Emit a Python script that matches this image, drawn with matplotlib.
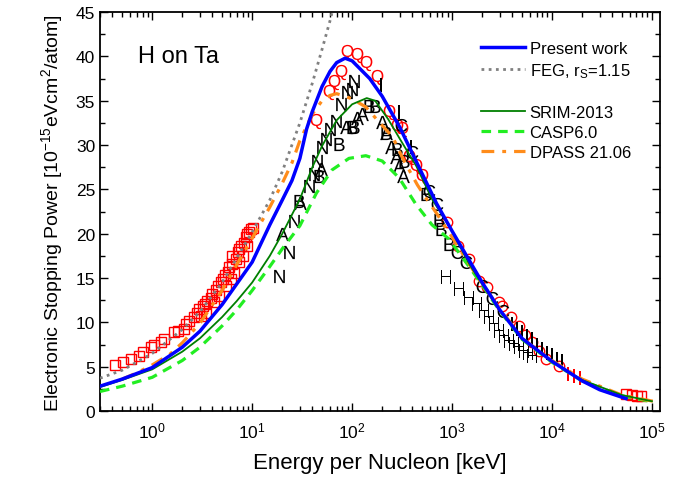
import numpy as np
import matplotlib
matplotlib.use("Agg")
import matplotlib.pyplot as plt
from matplotlib.lines import Line2D
from matplotlib.ticker import LogLocator, MultipleLocator, NullFormatter

plt.rcParams['font.family'] = ['Liberation Sans', 'DejaVu Sans']
plt.rcParams['mathtext.fontset'] = 'custom'
plt.rcParams['mathtext.rm'] = 'Liberation Sans'
plt.rcParams['mathtext.it'] = 'Liberation Sans:italic'
plt.rcParams['mathtext.sf'] = 'Liberation Sans'

# ---------------- curves ----------------
present_E = [0.3, 0.5, 1, 2, 3, 5, 10, 15, 20, 25, 30, 35, 40, 50, 60, 70, 85, 100, 150, 200, 300,
             500, 700, 1000, 2000, 3000, 5000, 1e4, 2e4, 3e4, 5.5e4]
present_S = [2.8, 3.6, 4.9, 7.2, 9.0, 12.0, 16.8, 21.0, 23.8, 26.0, 28.5, 31.8, 33.8, 36.6, 38.3, 39.3,
             39.8, 39.5, 37.5, 35.5, 32.0, 26.8, 23.4, 20.3, 14.5, 11.4, 8.2, 5.6, 3.4, 2.4, 1.4]

feg_E = [0.3, 0.5, 1, 2, 3, 5, 10, 15, 20, 30, 40, 50, 60, 68]
feg_S = [3.7, 4.6, 6.5, 9.2, 11.2, 14.5, 20.2, 23.8, 27.0, 32.5, 37.0, 40.8, 44.0, 46.5]

srim_E = [0.3, 0.5, 1, 2, 3, 5, 7, 10, 15, 20, 30, 40, 50, 70, 100, 140, 170, 230, 300, 440, 630,
          930, 1500, 2000, 3000, 5000, 1e4, 2e4, 5e4, 1e5]
srim_S = [2.7, 3.5, 4.7, 6.7, 8.2, 10.6, 12.4, 14.5, 17.5, 20.0, 23.9, 27.5, 29.9, 32.8, 34.6, 35.3,
          35.0, 32.9, 30.7, 27.6, 23.9, 20.9, 16.5, 14.3, 11.4, 8.2, 5.6, 3.5, 1.8, 1.1]

casp_E = [0.3, 0.5, 1, 2, 3, 5, 7, 10, 15, 20, 30, 44, 63, 93, 137, 200, 295, 436, 630, 930, 1500,
          2000, 3000, 5000, 1e4, 2e4, 5e4, 1e5]
casp_S = [2.2, 2.8, 3.8, 5.7, 7.2, 9.6, 11.4, 13.6, 16.3, 18.3, 20.9, 24.6, 27.2, 28.5, 28.8, 28.2,
          26.3, 23.3, 21.0, 19.4, 16.2, 14.2, 11.3, 8.1, 5.5, 3.4, 1.7, 1.05]

dpass_E = [0.5, 0.7, 1, 1.5, 2, 3, 5, 7, 10, 15, 20, 25, 30, 40, 50, 60, 70, 85, 100, 137, 186, 255,
           324, 450, 550, 690, 1000, 2000, 5000, 1e4, 2e4, 5e4, 1.2e5]
dpass_S = [3.6, 4.3, 5.2, 6.4, 7.7, 9.9, 13.6, 16.5, 19.5, 23.0, 25.7, 28.0, 30.5, 33.5, 35.0, 35.6,
           35.8, 35.5, 35.2, 34.3, 32.6, 30.9, 28.4, 25.5, 24.0, 22.4, 19.6, 14.3, 8.2, 5.7, 3.6, 1.8, 0.95]

# ---------------- experimental data ----------------
sq_E = [0.427, 0.51, 0.61, 0.74, 0.80, 0.97, 1.05, 1.22, 1.32, 1.66, 1.79, 2.09, 2.2, 2.34, 2.63,
        2.78, 2.95, 3.19, 3.39, 3.57, 3.86, 4.0, 4.3, 4.5, 4.86, 5.13, 5.37, 5.67, 5.89, 6.26, 6.35,
        6.85, 7.13, 7.41, 7.7, 8.3, 8.6, 8.95, 9.3, 9.7, 10.1, 4.17, 4.68, 5.45, 6.1, 6.6, 7.4, 8.0,
        8.95, 3.44, 3.07]
sq_S = [5.19, 5.56, 5.86, 6.24, 6.61, 7.18, 7.44, 7.82, 8.12, 8.87, 9.06, 9.24, 9.8, 10.2, 10.56,
        11.1, 11.5, 11.8, 12.06, 12.4, 12.8, 13.2, 13.6, 14.1, 14.5, 14.9, 15.3, 15.7, 16.2, 16.6, 17.5,
        17.1, 17.9, 18.3, 18.6, 19.0, 19.6, 19.95, 20.2, 20.5, 20.7, 12.3, 13.0, 14.1, 14.9, 15.6, 16.8,
        17.5, 18.6, 11.1, 10.7]

sqhi_E = [55000, 63000, 71000, 78000]
sqhi_S = [1.9, 1.8, 1.7, 1.7]

q_E = [44, 59, 66, 78, 89, 112, 137, 178, 235, 280, 316, 370, 436, 500]
q_S = [32.7, 36.0, 37.1, 38.2, 40.5, 40.2, 39.3, 37.7, 33.7, 32.1, 31.8, 28.7, 27.6, 26.5]

o_E = [880, 1150, 1480, 1860, 2240, 2950, 3160, 3900, 4680, 5400, 6300, 7400, 8700, 11700]
o_S = [21.3, 18.6, 17.1, 14.7, 14.0, 12.3, 11.8, 10.6, 9.6, 8.6, 7.8, 6.8, 5.9, 5.1]

ri_E = [14500, 16500, 19000]
ri_S = [4.2, 4.0, 3.7]

n_E = [18.6, 23.4, 26.3, 37, 42, 45, 50, 55, 60, 69, 78, 89, 100, 105]
n_S = [15.2, 17.9, 21.4, 25.4, 26.7, 28.2, 29.8, 30.7, 31.8, 32.7, 34.6, 36.0, 36.3, 37.2]

a_E = [20, 30, 49, 87, 112, 126, 200, 216, 245, 275, 295, 320]
a_S = [20.0, 23.5, 27.3, 32.0, 33.1, 33.5, 32.6, 31.4, 29.8, 28.7, 27.6, 26.5]

b_E = [29.5, 47, 74, 100, 105, 148, 170, 216, 280, 330, 550, 740, 780, 930]
b_S = [23.7, 26.5, 30.1, 32.0, 32.0, 34.4, 34.4, 31.4, 29.5, 28.2, 24.5, 21.6, 20.5, 18.8]

c_E = [309, 400, 590, 710, 1120, 1380, 2000, 2500, 3200]
c_S = [32.3, 29.2, 24.8, 23.3, 17.9, 16.8, 14.1, 12.8, 11.3]

i_E = [195, 295, 390, 4000, 4500, 5000, 5600, 6300, 7100, 8000, 8900, 10000, 11200, 12500]
i_S = [36.8, 33.7, 29.8, 9.8, 9.3, 8.9, 8.5, 8.1, 7.5, 7.0, 6.6, 6.3, 5.9, 5.6]

h_E = [870, 1170, 1480, 1780, 2090, 2340, 2630, 2950, 3300, 3700, 4170, 4680, 5250, 5800, 6300]
h_S = [15.1, 13.8, 12.8, 12.1, 11.3, 10.6, 9.8, 9.0, 8.5, 7.9, 7.6, 7.2, 6.8, 6.5, 6.2]

# ---------------- figure ----------------
fig = plt.figure(figsize=(6.77, 4.85), dpi=100)
ax = fig.add_axes([0.1477, 0.1505, 0.827, 0.8225])

def letters(E, S, ch, color, ms=9.5):
    ax.plot(E, S, linestyle='none', marker=r'$\mathsf{%s}$' % ch, color=color,
            markersize=ms, markeredgewidth=0, zorder=3)

ax.plot(sq_E, sq_S, 's', mfc='none', mec='red', mew=1.0, ms=7.5, linestyle='none', zorder=3)
ax.plot(sqhi_E, sqhi_S, 's', mfc='none', mec='red', mew=1.0, ms=7.5, linestyle='none', zorder=3)
ax.plot(o_E, o_S, 'o', mfc='none', mec='red', mew=1.0, ms=7.5, linestyle='none', zorder=3)
letters(q_E, q_S, 'Q', 'red', 11)
letters(ri_E, ri_S, 'I', 'red', 10)
letters(n_E, n_S, 'N', 'black')
letters(a_E, a_S, 'A', 'black')
letters(b_E, b_S, 'B', 'black')
letters(c_E, c_S, 'C', 'black')
letters(i_E, i_S, 'I', 'black', 10)
letters(h_E, h_S, 'H', 'black')

ax.plot(feg_E, feg_S, color='#808080', linestyle=(0, (1, 1.6)), lw=2.0, zorder=4)
ax.plot(casp_E, casp_S, color='#22EE22', linestyle=(0, (3, 2.2)), lw=2.3, zorder=4)
ax.plot(dpass_E, dpass_S, color='#FF8C1A', linestyle=(0, (4, 2.5, 1.2, 2.5)), lw=2.3, zorder=4)
ax.plot(srim_E, srim_S, color='#007F00', lw=1.3, zorder=5)
ax.plot(present_E, present_S, color='#0000FF', lw=2.5, zorder=6)

ax.set_xscale('log')
ax.set_xlim(0.3, 1.2e5)
ax.set_ylim(0, 45)
ax.xaxis.set_major_locator(LogLocator(base=10, numticks=10))
ax.xaxis.set_minor_locator(LogLocator(base=10, subs=np.arange(2, 10), numticks=20))
ax.xaxis.set_minor_formatter(NullFormatter())
ax.yaxis.set_major_locator(MultipleLocator(5))
ax.yaxis.set_minor_locator(MultipleLocator(2.5))
ax.tick_params(which='both', direction='in', top=True, right=True, labelsize=12.5, width=1.0)
ax.tick_params(which='major', length=6)
ax.tick_params(which='minor', length=3.5)
ax.tick_params(axis='x', pad=7)
for s in ax.spines.values():
    s.set_linewidth(1.3)

ax.set_xlabel('Energy per Nucleon [keV]', fontsize=16, labelpad=8)
ax.set_ylabel(r'Electronic Stopping Power [10$^{-15}$eVcm$^{2}$/atom]', fontsize=14, labelpad=8)
ax.text(0.068, 0.875, 'H on Ta', transform=ax.transAxes, fontsize=17)

handles = [
    Line2D([], [], color='#0000FF', lw=2.5),
    Line2D([], [], color='#808080', linestyle=(0, (1, 1.6)), lw=2.0),
    Line2D([], [], color='none'),
    Line2D([], [], color='#007F00', lw=1.3),
    Line2D([], [], color='#22EE22', linestyle=(0, (3, 2.2)), lw=2.3),
    Line2D([], [], color='#FF8C1A', linestyle=(0, (4, 2.5, 1.2, 2.5)), lw=2.3),
]
labels = ['Present work', r'FEG, r$_\mathrm{S}$=1.15', ' ', 'SRIM-2013', 'CASP6.0', 'DPASS 21.06']
leg = ax.legend(handles, labels, loc='upper right', bbox_to_anchor=(0.975, 0.965), frameon=False,
                fontsize=12, handlelength=2.6, handletextpad=0.3, labelspacing=0.3)

fig.savefig('out.png', dpi=100)
